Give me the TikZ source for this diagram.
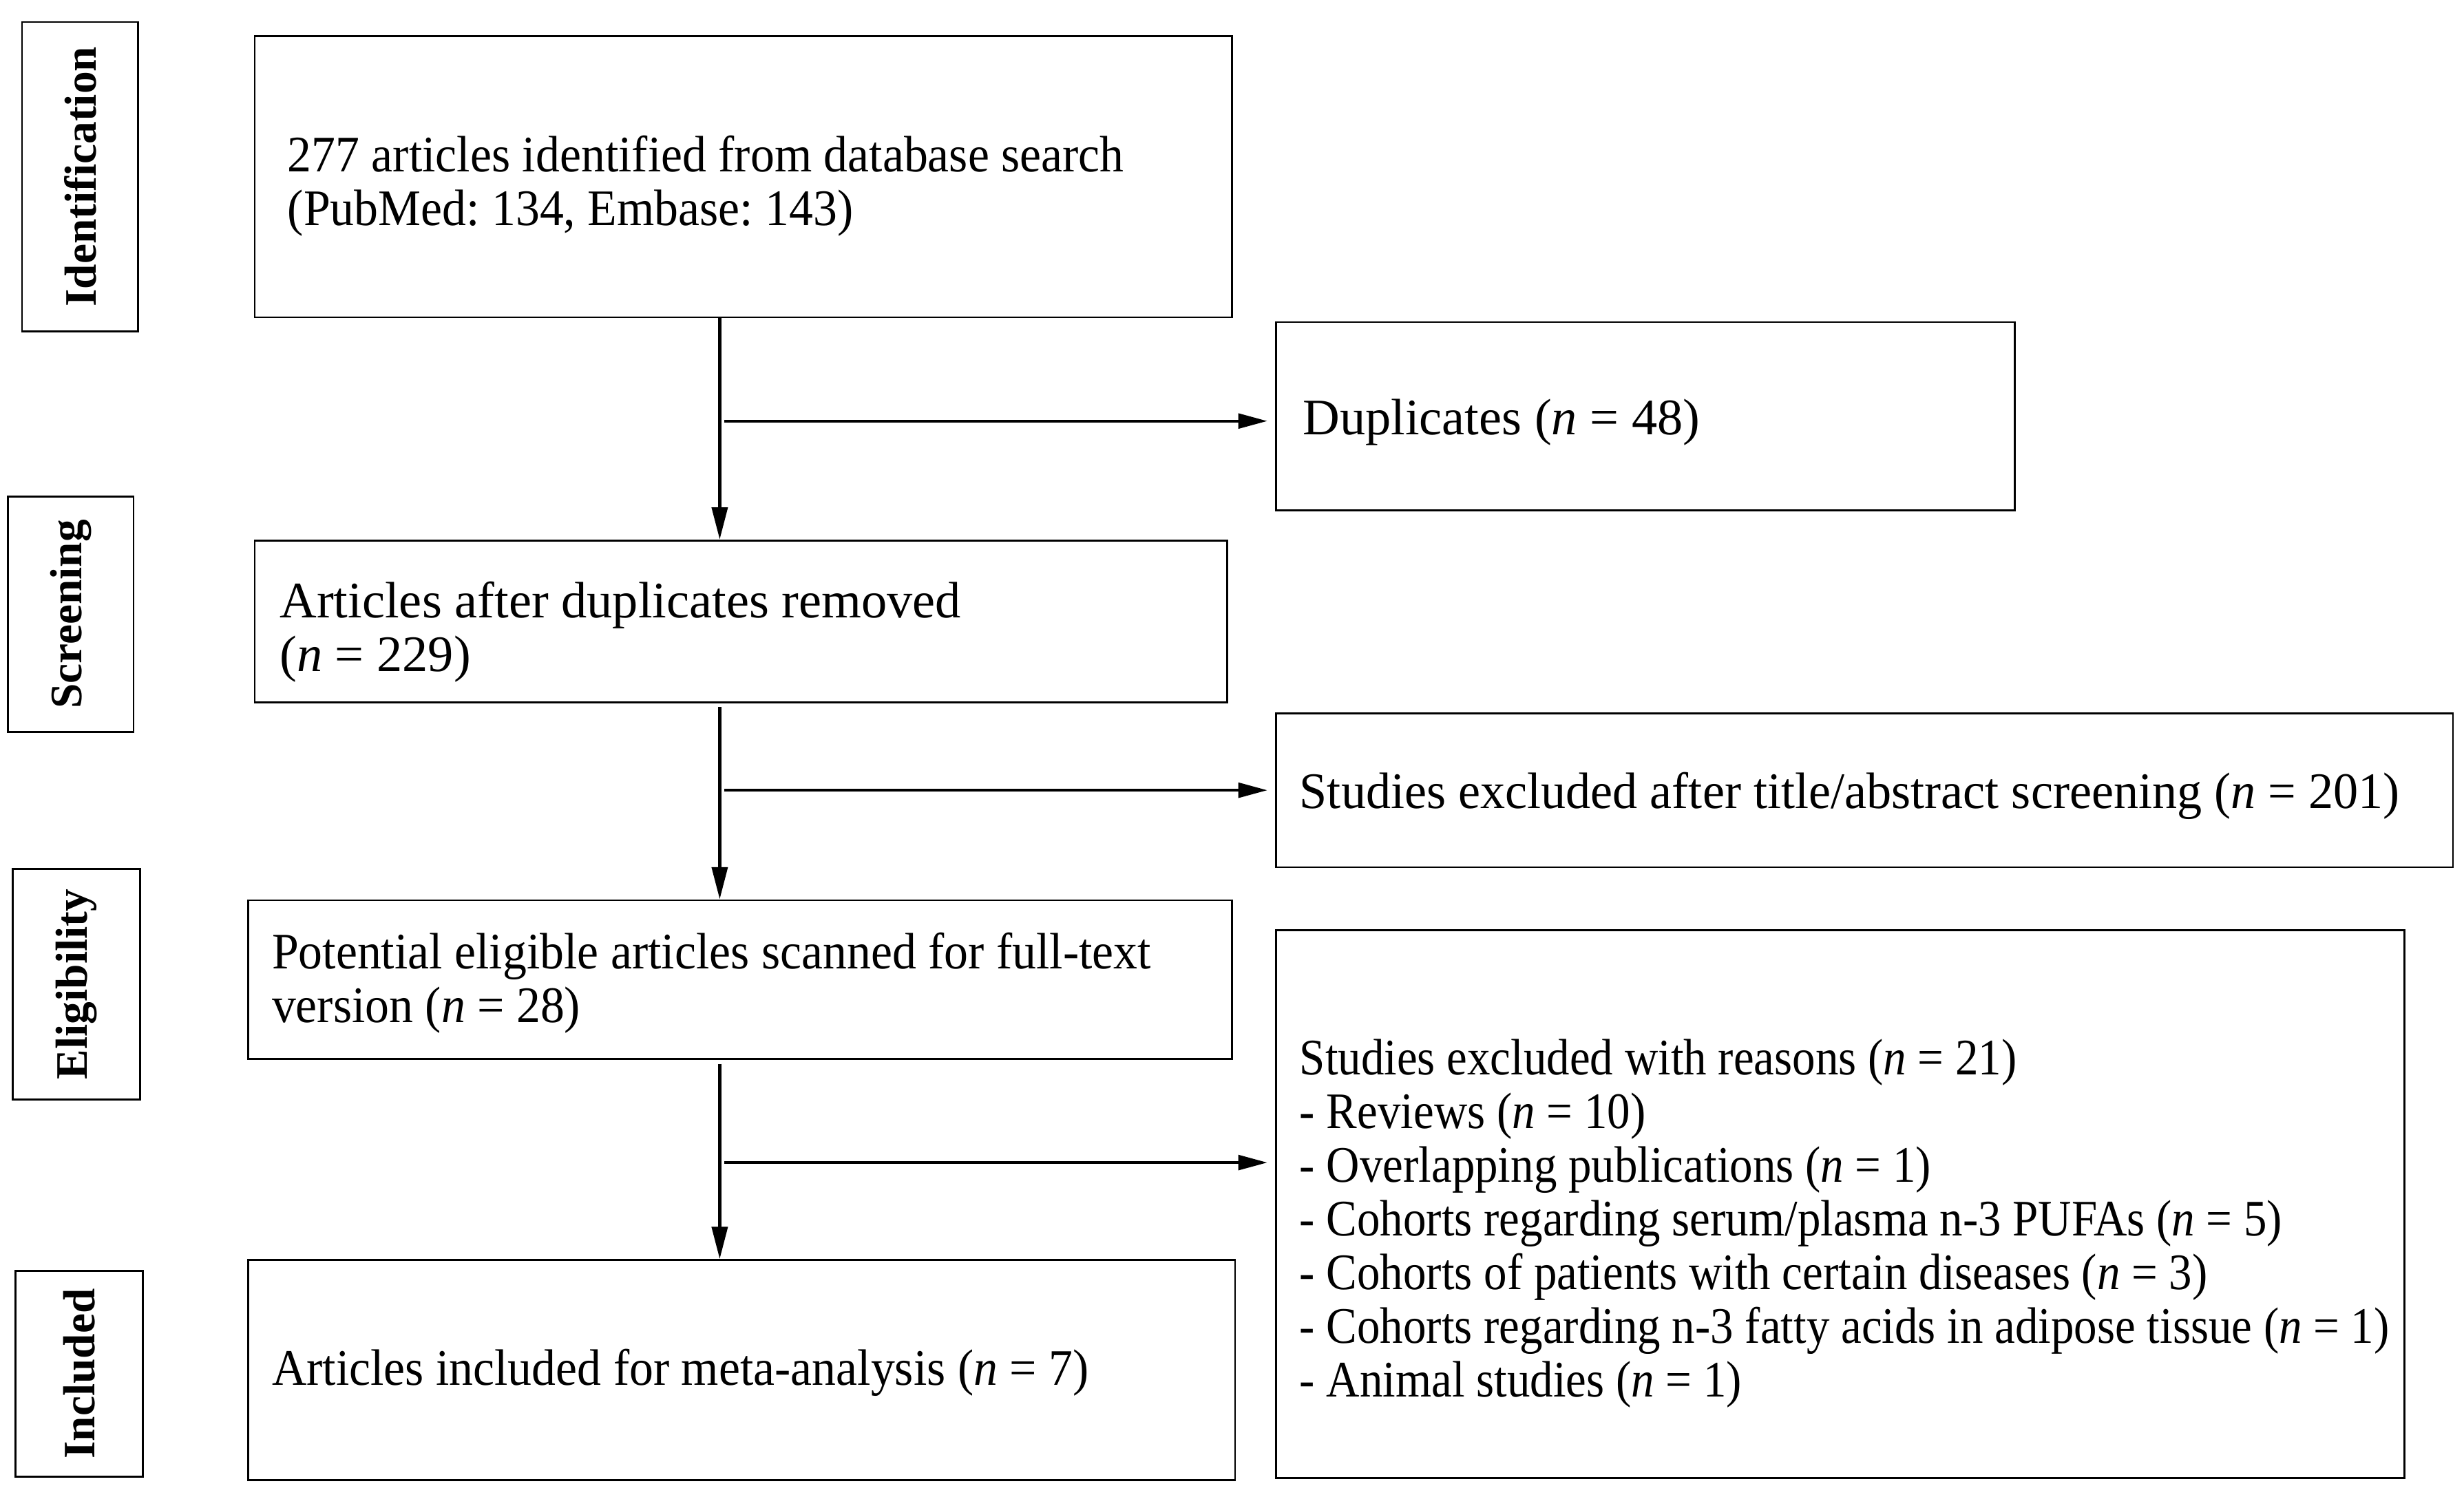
\documentclass[tikz,border=0pt]{standalone}
\usepackage{fontspec}
\setmainfont{Liberation Serif}
\newfontfamily\condA[FakeStretch=0.938]{Liberation Serif}
\newfontfamily\condB[FakeStretch=0.90]{Liberation Serif}
\newfontfamily\condC[FakeStretch=0.97]{Liberation Serif}
\usetikzlibrary{arrows.meta}
% width, left padding, downward shift, lines
\newcommand\btext[4]{\raisebox{-#3}[\height][\depth]{\makebox[#1][l]{\hspace{#2}\begin{tabular}{@{}l@{}}#4\end{tabular}}}}
\begin{document}
\frenchspacing
\begin{tikzpicture}[x=0.02cm,y=-0.02cm,
  box/.style={draw, line width=0.7pt, rectangle, inner sep=0pt,
    font=\fontsize{18.55}{19.45}\selectfont},
  stage/.style={draw, line width=0.7pt, rectangle, rotate=90, inner sep=0pt,
    font=\fontsize{16.3}{19}\selectfont\bfseries},
  arr/.style={line width=1.1pt, -{Triangle[length=0.41cm,width=0.2cm]}},
  harr/.style={line width=1pt, -{Triangle[length=0.37cm,width=0.19cm]}, shorten >=0.1cm}
]
\useasboundingbox (0,0) rectangle (1568,952.5);

% stage labels
\node[stage, minimum width=3.94cm, minimum height=1.48cm] (sid) at (51,112.5) {Identification};
\node[stage, minimum width=3.0cm, minimum height=1.6cm] (ssc) at (45,391) {Screening};
\node[stage, minimum width=2.94cm, minimum height=1.62cm] (sel) at (48.5,626.5) {Eligibility};
\node[stage, minimum width=2.62cm, minimum height=1.62cm] (sin) at (50.5,874.5) {Included};

% main boxes
\node[box, minimum width=12.44cm, minimum height=3.58cm] (b1) at (473,112.5)
  {\condA\btext{12.44cm}{0.42cm}{4pt}{277 articles identified from database search\\(PubMed: 134, Embase: 143)}};
\node[box, minimum width=12.38cm, minimum height=2.06cm] (b2) at (471.5,395.5)
  {\btext{12.38cm}{0.32cm}{4.4pt}{Articles after duplicates removed\\(\textit{n} = 229)}};
\node[box, minimum width=12.52cm, minimum height=2.02cm] (b3) at (471,623.5)
  {\condA\btext{12.52cm}{0.3cm}{1.8pt}{Potential eligible articles scanned for full-text\\version (\textit{n} = 28)}};
\node[box, minimum width=12.56cm, minimum height=2.8cm] (b4) at (472,872)
  {\condA\btext{12.56cm}{0.3cm}{1.5pt}{Articles included for meta-analysis (\textit{n} = 7)}};

% exclusion boxes
\node[box, minimum width=9.4cm, minimum height=2.4cm] (dup) at (1047,265)
  {\btext{9.4cm}{0.34cm}{2.7pt}{Duplicates (\textit{n} = 48)}};
\node[box, minimum width=14.98cm, minimum height=1.96cm] (ex1) at (1186.5,503)
  {\condC\btext{14.98cm}{0.3cm}{2.7pt}{Studies excluded after title/abstract screening (\textit{n} = 201)}};
\node[box, minimum width=14.36cm, minimum height=6.98cm] (ex2) at (1171,766.5)
  {\condB\btext{14.36cm}{0.3cm}{7.5pt}{Studies excluded with reasons (\textit{n} = 21)\\
   - Reviews (\textit{n} = 10)\\
   - Overlapping publications (\textit{n} = 1)\\
   - Cohorts regarding serum/plasma n-3 PUFAs (\textit{n} = 5)\\
   - Cohorts of patients with certain diseases (\textit{n} = 3)\\
   - Cohorts regarding n-3 fatty acids in adipose tissue (\textit{n} = 1)\\
   - Animal studies (\textit{n} = 1)}};

% spine and junctions
\coordinate (spine) at (458,0);
\coordinate (j1) at (461,268);
\coordinate (j2) at (461,503);
\coordinate (j3) at (461,740);

\draw[arr] (b1.south -| spine) -- (b2.north -| spine);
\draw[arr] ([yshift=-0.05cm]b2.south -| spine) -- (b3.north -| spine);
\draw[arr] ([yshift=-0.05cm]b3.south -| spine) -- (b4.north -| spine);

\draw[harr] (j1) -- (dup.west |- j1);
\draw[harr] (j2) -- (ex1.west |- j2);
\draw[harr] (j3) -- (ex2.west |- j3);
\end{tikzpicture}
\end{document}
